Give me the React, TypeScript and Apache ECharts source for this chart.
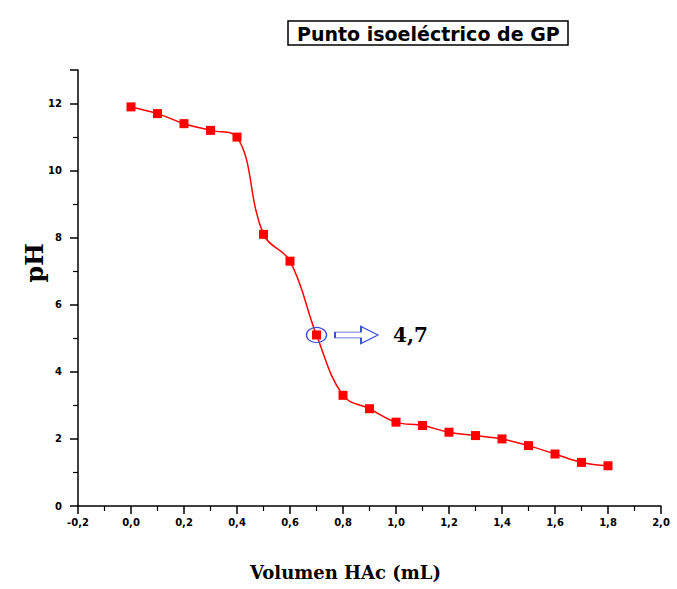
import React, { useEffect, useRef } from "react";
import * as echarts from "echarts";

const volumes = [0.0, 0.1, 0.2, 0.3, 0.4, 0.5, 0.6, 0.7, 0.8, 0.9, 1.0, 1.1, 1.2, 1.3, 1.4, 1.5, 1.6, 1.7, 1.8];
const phValues = [11.9, 11.7, 11.4, 11.2, 11.0, 8.1, 7.3, 5.1, 3.3, 2.9, 2.5, 2.4, 2.2, 2.1, 2.0, 1.8, 1.55, 1.3, 1.2];
const titleText = "Punto isoeléctrico de GP";
const xName = "Volumen HAc (mL)";
const yName = "pH";
const isoPoint = [0.7, 5.1];
const isoLabel = "4,7";

export default function App() {
  const ref = useRef<HTMLDivElement>(null);
  useEffect(() => {
    document.body.style.margin = "0";
    const chart = echarts.init(ref.current!, null, { renderer: "svg" });
    const tickFont = {
      fontFamily: "DejaVu Sans",
      fontSize: 10,
      fontWeight: "bold" as const,
      color: "#000",
    };
    chart.setOption({
      animation: false,
      backgroundColor: "#fff",
      title: {
        text: titleText,
        left: 288,
        top: 21,
        borderColor: "#000",
        borderWidth: 1.5,
        padding: [3, 9, 2, 9],
        textStyle: {
          fontFamily: "DejaVu Sans",
          fontWeight: "bold",
          fontSize: 19,
          color: "#000",
        },
      },
      grid: { left: 78, right: 16, top: 70, bottom: 83, containLabel: false },
      xAxis: {
        type: "value",
        min: -0.2,
        max: 2.0,
        interval: 0.2,
        splitLine: { show: false },
        axisLine: { show: true, onZero: false, lineStyle: { color: "#000", width: 1.5 } },
        axisTick: { show: true, length: 8, lineStyle: { color: "#000", width: 1.5 } },
        minorTick: { show: true, splitNumber: 2, length: 5, lineStyle: { color: "#000", width: 1.2 } },
        axisLabel: {
          ...tickFont,
          margin: 11,
          formatter: (v: number) => v.toFixed(1).replace(".", ","),
        },
      },
      yAxis: {
        type: "value",
        min: 0,
        max: 13,
        interval: 2,
        splitLine: { show: false },
        axisLine: { show: true, onZero: false, lineStyle: { color: "#000", width: 1.5 } },
        axisTick: { show: true, length: 8, lineStyle: { color: "#000", width: 1.5 } },
        minorTick: { show: true, splitNumber: 2, length: 5, lineStyle: { color: "#000", width: 1.2 } },
        axisLabel: {
          ...tickFont,
          margin: 16,
          formatter: (v: number) => (v % 2 === 0 ? String(v) : ""),
        },
      },
      graphic: [
        {
          type: "text",
          left: 22,
          top: 243,
          rotation: Math.PI / 2,
          originX: 0,
          originY: 0,
          style: {
            text: yName,
            font: "bold 24px 'DejaVu Serif'",
            fill: "#000",
          },
        },
        {
          type: "text",
          left: 250,
          top: 563,
          style: {
            text: xName,
            font: "bold 18px 'DejaVu Serif'",
            fill: "#000",
          },
        },
      ],
      series: [
        {
          type: "line",
          data: volumes.map((v, i) => [v, phValues[i]]),
          smooth: 0.4,
          symbol: "rect",
          symbolSize: 9,
          lineStyle: { color: "#ff0000", width: 1.5 },
          itemStyle: { color: "#ff0000" },
          markPoint: {
            silent: true,
            data: [
              {
                coord: isoPoint,
                symbol: "circle",
                symbolSize: [20, 15],
                itemStyle: { color: "rgba(0,0,0,0)", borderColor: "#3d52d5", borderWidth: 1.3 },
                label: { show: false },
              },
              {
                coord: isoPoint,
                symbol: "path://M0,6L26,6L26,0L43,9L26,18L26,12L0,12Z",
                symbolSize: [43, 17],
                symbolKeepAspect: false,
                symbolOffset: [40, 0],
                itemStyle: { color: "#fff", borderColor: "#3d52d5", borderWidth: 1.3 },
                label: { show: false },
              },
              {
                coord: isoPoint,
                symbol: "rect",
                symbolSize: 1,
                itemStyle: { color: "rgba(0,0,0,0)" },
                label: {
                  show: true,
                  position: "inside",
                  offset: [94, 0],
                  formatter: isoLabel,
                  fontFamily: "DejaVu Serif",
                  fontWeight: "bold",
                  fontSize: 20,
                  color: "#000",
                },
              },
            ],
          },
        },
      ],
    });
    return () => chart.dispose();
  }, []);
  return <div ref={ref} style={{ width: 677, height: 589 }} />;
}
